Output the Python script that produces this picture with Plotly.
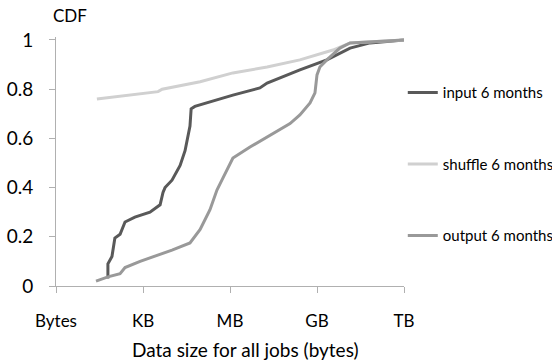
import plotly.graph_objects as go

# x values are log10(bytes); 0=Bytes, 3=KB, 6=MB, 9=GB, 12=TB
tick_vals = [0, 3, 6, 9, 12]
tick_text = ["Bytes", "KB", "MB", "GB", "TB"]

input_x = [1.79, 1.79, 1.93, 2.03, 2.21, 2.38, 2.72, 3.24, 3.59, 3.69, 3.76, 4.0, 4.28, 4.45, 4.62, 4.66, 4.79, 6.10, 7.03, 7.28, 8.41, 9.34, 10.14, 10.83, 12.0]
input_y = [0.03, 0.09, 0.12, 0.195, 0.21, 0.26, 0.28, 0.30, 0.33, 0.38, 0.40, 0.43, 0.49, 0.55, 0.65, 0.72, 0.73, 0.776, 0.805, 0.825, 0.878, 0.919, 0.967, 0.988, 1.0]

shuffle_x = [1.41, 3.52, 3.66, 4.97, 6.10, 7.28, 8.41, 9.55, 10.14, 12.0]
shuffle_y = [0.76, 0.79, 0.80, 0.83, 0.866, 0.89, 0.919, 0.959, 0.988, 1.0]

output_x = [1.38, 1.79, 2.21, 2.38, 2.90, 3.59, 4.0, 4.62, 4.97, 5.31, 5.55, 5.72, 6.10, 6.69, 7.28, 8.07, 8.41, 8.76, 8.93, 9.0, 9.10, 9.34, 9.79, 10.14, 12.0]
output_y = [0.02, 0.037, 0.05, 0.075, 0.10, 0.127, 0.146, 0.175, 0.23, 0.31, 0.39, 0.43, 0.52, 0.565, 0.605, 0.66, 0.695, 0.744, 0.785, 0.858, 0.89, 0.919, 0.967, 0.988, 1.0]

series = [
    ("input 6 months", input_x, input_y, "#595959"),
    ("shuffle 6 months", shuffle_x, shuffle_y, "#d0d0d0"),
    ("output 6 months", output_x, output_y, "#999999"),
]

FONT = "Lato"
L, R, T, B = 56, 404, 37, 286
PW, PH = R - L, B - T


def px(x, y):
    return dict(x=(x - L) / PW, y=(B - y) / PH, xref="paper", yref="paper")


fig = go.Figure()
for i, (name, xs, ys, col) in enumerate(series):
    fig.add_trace(go.Scatter(x=xs, y=ys, mode="lines", name=name,
                             legendgroup=f"g{i}",
                             line=dict(color=col, width=3)))

fig.update_layout(
    width=552, height=362,
    margin=dict(l=L, r=552 - R, t=T, b=362 - B, autoexpand=False),
    paper_bgcolor="white", plot_bgcolor="white",
    font=dict(family=FONT, color="#000000"),
    showlegend=True,
    legend=dict(x=0.9965, xanchor="left", y=0.842, yanchor="top",
                font=dict(size=15, family=FONT), tracegroupgap=49,
                bgcolor="rgba(0,0,0,0)", itemwidth=30),
    xaxis=dict(range=[0, 12], tickvals=tick_vals, ticktext=tick_text,
               showgrid=False, zeroline=False, showline=True,
               linecolor="#b0b0b0", linewidth=1,
               ticks="outside", ticklen=6, tickcolor="#b0b0b0",
               ticklabelstandoff=14, automargin=False,
               tickfont=dict(size=17)),
    yaxis=dict(range=[0, 1.012], tickvals=[0, 0.2, 0.4, 0.6, 0.8, 1],
               ticktext=["0", "0.2", "0.4", "0.6", "0.8", "1"],
               showgrid=False, zeroline=False, showline=True,
               linecolor="#b0b0b0", linewidth=1,
               ticks="outside", ticklen=6, tickcolor="#b0b0b0",
               ticklabelstandoff=12, automargin=False,
               tickfont=dict(size=19)),
    annotations=[
        dict(text="CDF", showarrow=False, xanchor="center", yanchor="middle",
             font=dict(size=17, family=FONT), **px(70, 15)),
        dict(text="Data size for all jobs (bytes)", showarrow=False,
             xanchor="center", yanchor="middle",
             font=dict(size=19, family=FONT), **px(245, 349)),
    ],
)

fig.write_html("out.html", config={"displayModeBar": False},
               post_script="document.body.style.margin='0';")
